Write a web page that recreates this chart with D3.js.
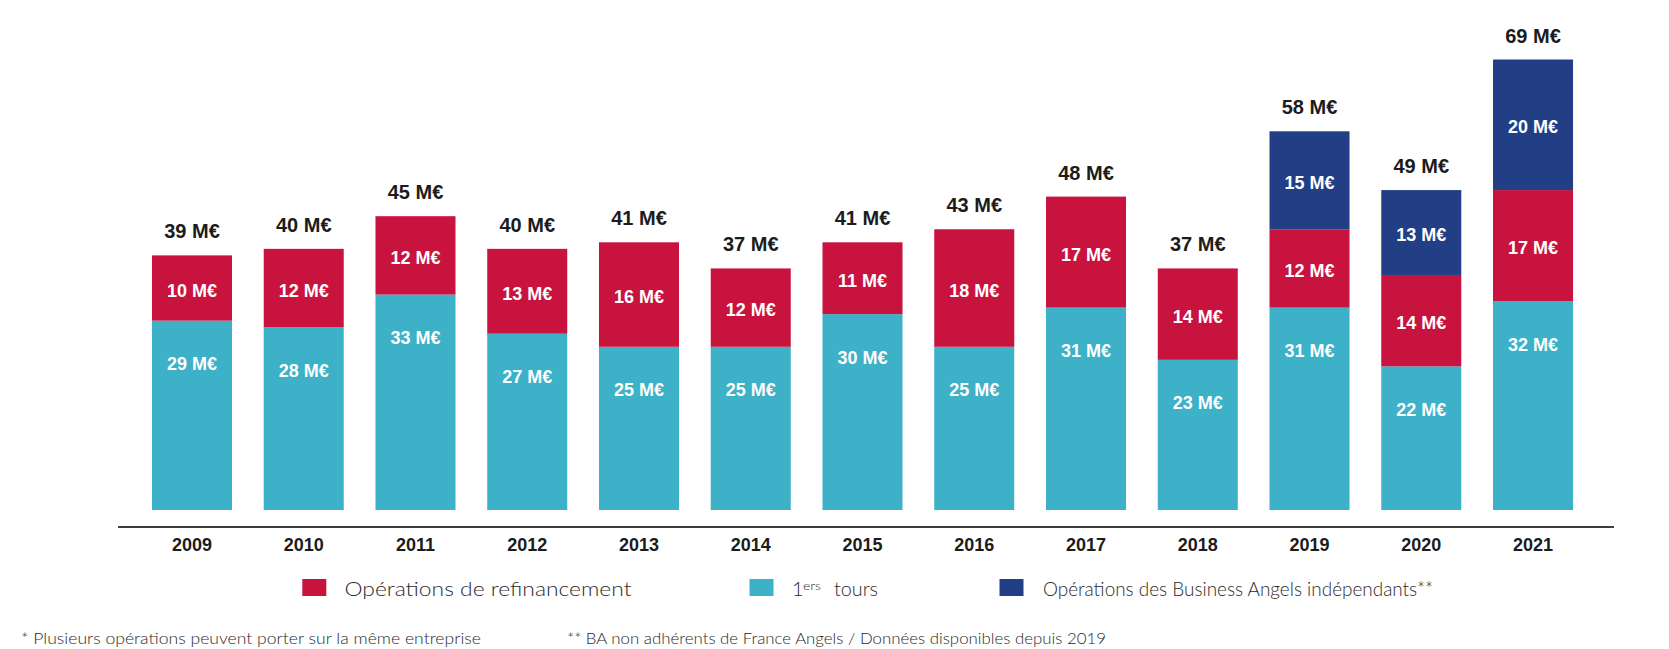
<!DOCTYPE html>
<html>
<head>
<meta charset="utf-8">
<script src="https://cdn.jsdelivr.net/npm/d3@7"></script>
<style>
  html, body { margin: 0; padding: 0; background: #fff; }
  svg { display: block; }
</style>
</head>
<body>
<svg id="chart" width="1669" height="649"></svg>
<script>
const years = ["2009","2010","2011","2012","2013","2014","2015","2016","2017","2018","2019","2020","2021"];
const firstRounds = [29, 28, 33, 27, 25, 25, 30, 25, 31, 23, 31, 22, 32];
const refinancing = [10, 12, 12, 13, 16, 12, 11, 18, 17, 14, 12, 14, 17];
const independentBA = [0, 0, 0, 0, 0, 0, 0, 0, 0, 0, 15, 13, 20];
const totals = [39, 40, 45, 40, 41, 37, 41, 43, 48, 37, 58, 49, 69];
const unit = " M€";

const seriesKeys = ["tours", "refi", "ba"];
const seriesColors = { tours: "#3cb1c8", refi: "#c9133f", ba: "#223f86" };
const legendItems = [
  { key: "refi", label: "Opérations de refinancement" },
  { key: "tours", label: "1ers tours" },
  { key: "ba", label: "Opérations des Business Angels indépendants**" }
];
const footnotes = [
  "* Plusieurs opérations peuvent porter sur la même entreprise",
  "** BA non adhérents de France Angels / Données disponibles depuis 2019"
];

const rows = years.map((y, i) => ({ year: y, tours: firstRounds[i], refi: refinancing[i], ba: independentBA[i], total: totals[i] }));

const svg = d3.select("#chart");
const boldFont = "'Liberation Sans', Arial, sans-serif";

const x = d3.scaleBand().domain(years).range([136.1, 1588.9]).paddingInner(0.284).paddingOuter(0.142);
const y = d3.scaleLinear().domain([0, 69]).range([510, 59.5]);

const stacked = d3.stack().keys(seriesKeys)(rows);

const layers = svg.append("g").selectAll("g").data(stacked).join("g")
  .attr("fill", d => seriesColors[d.key]);

layers.selectAll("rect").data(d => d.map(p => ({ p, key: d.key }))).join("rect")
  .filter(d => d.p[1] - d.p[0] > 0)
  .attr("x", d => x(d.p.data.year))
  .attr("width", x.bandwidth())
  .attr("y", d => y(d.p[1]))
  .attr("height", d => y(d.p[0]) - y(d.p[1]));

// segment labels
const segLabels = [];
stacked.forEach(layer => {
  layer.forEach(p => {
    const v = p[1] - p[0];
    if (v <= 0) return;
    let cy;
    if (layer.key === "tours") cy = y(p[1]) + 43;
    else cy = (y(p[0]) + y(p[1])) / 2 + 2;
    segLabels.push({ year: p.data.year, v, cy });
  });
});
svg.append("g").selectAll("text").data(segLabels).join("text")
  .attr("x", d => x(d.year) + x.bandwidth() / 2)
  .attr("y", d => d.cy + 6.5)
  .attr("text-anchor", "middle")
  .attr("font-family", boldFont)
  .attr("font-weight", "bold")
  .attr("font-size", 18)
  .attr("fill", "#ffffff")
  .text(d => d.v + unit);

// totals
svg.append("g").selectAll("text").data(rows).join("text")
  .attr("x", d => x(d.year) + x.bandwidth() / 2)
  .attr("y", d => y(d.total) - 17)
  .attr("text-anchor", "middle")
  .attr("font-family", boldFont)
  .attr("font-weight", "bold")
  .attr("font-size", 20)
  .attr("fill", "#1c1c1c")
  .text(d => d.total + unit);

// baseline line
svg.append("line")
  .attr("x1", 118).attr("x2", 1614)
  .attr("y1", 527).attr("y2", 527)
  .attr("stroke", "#3d3d3d").attr("stroke-width", 2.2);

// x axis labels
const xAxis = svg.append("g").attr("transform", "translate(0,527)")
  .call(d3.axisBottom(x).tickSize(0).tickPadding(0));
xAxis.select(".domain").remove();
xAxis.selectAll("text")
  .attr("y", 23.5)
  .attr("dy", null)
  .attr("font-family", boldFont)
  .attr("font-weight", "bold")
  .attr("font-size", 18)
  .attr("fill", "#1c1c1c");

// legend
const lightFont = "Lato, 'Open Sans', sans-serif";
const legendX = { refi: 302.3, tours: 749.5, ba: 999.5 };
const legendTextX = { refi: 344.5, tours: 795, ba: 1043 };
const legendTextW = { refi: 287, ba: 390 };
const lg = svg.append("g");
legendItems.forEach(it => {
  lg.append("rect")
    .attr("x", legendX[it.key]).attr("y", 579)
    .attr("width", 24).attr("height", 17)
    .attr("fill", seriesColors[it.key]);
  if (it.key === "tours") {
    const base = { "font-family": lightFont, "font-weight": 300, fill: "#2a2a2a" };
    const parts = [
      { t: "1", x: 792, y: 595.5, size: 20 },
      { t: "ers", x: 803, y: 590, size: 11, w: 18 },
      { t: "tours", x: 834, y: 595.5, size: 20, w: 44 }
    ];
    parts.forEach(p => {
      const t = lg.append("text").attr("x", p.x).attr("y", p.y).attr("font-size", p.size).text(p.t);
      Object.entries(base).forEach(([k, v]) => t.attr(k, v));
      if (p.w) t.attr("textLength", p.w).attr("lengthAdjust", "spacingAndGlyphs");
    });
  } else {
    lg.append("text")
      .attr("x", legendTextX[it.key]).attr("y", 595.5)
      .attr("font-family", lightFont)
      .attr("font-weight", 300)
      .attr("font-size", 20)
      .attr("fill", "#2a2a2a")
      .attr("textLength", legendTextW[it.key])
      .attr("lengthAdjust", "spacingAndGlyphs")
      .text(it.label);
  }
});

// footnotes
const fnX = [21, 567];
const fnW = [460, 539];
svg.append("g").selectAll("text").data(footnotes).join("text")
  .attr("x", (d, i) => fnX[i])
  .attr("y", 644)
  .attr("font-family", lightFont)
  .attr("font-weight", 300)
  .attr("font-size", 15)
  .attr("fill", "#2a2a2a")
  .attr("textLength", (d, i) => fnW[i])
  .attr("lengthAdjust", "spacingAndGlyphs")
  .text(d => d);
</script>
</body>
</html>
